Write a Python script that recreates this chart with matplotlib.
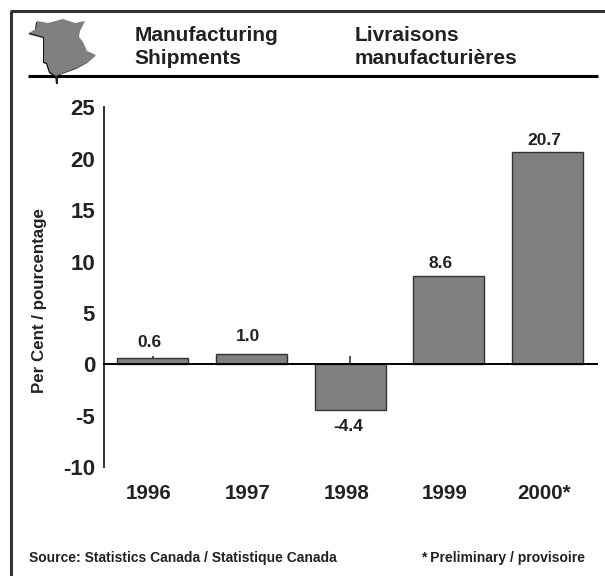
import numpy as np
import matplotlib
matplotlib.use("Agg")
import matplotlib.pyplot as plt
from matplotlib.patches import Polygon

plt.rcParams['font.family'] = ['Liberation Sans', 'DejaVu Sans']
plt.rcParams['font.weight'] = 'bold'

W, H = 605, 576
PX = 72 / 100  # puntos por pixel

# Datos
years = ['1996', '1997', '1998', '1999', '2000*']
values = [0.6, 1.0, -4.4, 8.6, 20.7]
value_labels = ['0.6', '1.0', '-4.4', '8.6', '20.7']
y_ticks = [-10, -5, 0, 5, 10, 15, 20, 25]

# Desplazamiento de cada etiqueta respecto a la barra (px)
label_dx = [-3, -3.5, -2, -8, -3]
label_dy = [15.5, 17.5, -17, 12, 11]

title_en = 'Manufacturing\nShipments'
title_fr = 'Livraisons\nmanufacturières'
y_label = 'Per Cent / pourcentage'
source_text = 'Source: Statistics Canada / Statistique Canada'
note_text = '* Preliminary / provisoire'

# Silueta del mapa (px de la imagen)
map_outline = [(29, 33), (36, 29), (37, 21), (48, 23), (63, 19), (75, 23), (85, 21),
               (80, 31), (79, 37), (83, 42), (87, 51), (96, 55), (88, 62), (77, 68),
               (63, 73), (56, 76), (50, 72), (47, 63), (44, 62), (44, 37)]
map_island = [(55, 76), (58, 76), (58, 84), (56, 84)]

TEXT = '#222222'
DARK = '#333333'
GREY = '#808080'

fig = plt.figure(figsize=(W / 100, H / 100), dpi=100)
fig.patch.set_facecolor('white')

# Capa en pixeles para marco, mapa y textos
bg = fig.add_axes([0, 0, 1, 1])
bg.set_xlim(0, W)
bg.set_ylim(H, 0)
bg.axis('off')

bg.plot([10.5, 10.5], [11, H], color=DARK, lw=2.2, solid_capstyle='butt')
bg.plot([9.5, W], [11, 11], color=DARK, lw=2.2, solid_capstyle='butt')
bg.plot([28, 598], [75.5, 75.5], color='black', lw=2.2, solid_capstyle='butt')

shadow = [(x - 1, y + 1) for x, y in map_outline]
bg.add_patch(Polygon(shadow, closed=True, fc='#111111', ec='none', zorder=3))
bg.add_patch(Polygon(map_outline, closed=True, fc=GREY, ec='none', zorder=4))
bg.add_patch(Polygon(map_island, closed=True, fc='#222222', ec='none', zorder=4))

bg.text(134.5, 47, title_en, fontsize=15, color=TEXT, linespacing=1.3, ha='left', va='center')
bg.text(354.5, 47, title_fr, fontsize=15, color=TEXT, linespacing=1.3, ha='left', va='center')
bg.text(29, 558, source_text, fontsize=10, color=TEXT, ha='left', va='center')
bg.text(585, 558, note_text, fontsize=10, color=TEXT, ha='right', va='center')
bg.text(40, 301, y_label, fontsize=12.2, color=TEXT, rotation=90, ha='center', va='center')

# Grafico
left, right, top, bottom = 103.5, 597.0, 107.3, 467.3
ax = fig.add_axes([left / W, 1 - bottom / H, (right - left) / W, (bottom - top) / H])
ax.patch.set_alpha(0)
x = np.arange(len(years))
ax.bar(x, values, width=0.72, color=GREY, edgecolor=DARK, linewidth=1.0, zorder=3)
ax.set_xlim(-0.5, 4.5)
ax.set_ylim(-10, 25)

ax.spines['top'].set_visible(False)
ax.spines['right'].set_visible(False)
ax.spines['bottom'].set_position(('data', 0))
ax.spines['bottom'].set_linewidth(1.4)
ax.spines['bottom'].set_zorder(4)
ax.spines['left'].set_linewidth(1.4)
ax.spines['left'].set_color(DARK)

ax.set_yticks(y_ticks)
ax.set_yticklabels([str(v) for v in y_ticks], fontsize=16, color=TEXT)
ax.tick_params(axis='y', length=0, pad=6)
ax.set_xticks(x)
ax.set_xticklabels([])
ax.tick_params(axis='x', length=0)

# Marcas pequenas sobre el eje en los anos 1996 y 1998
ax.vlines([x[0], x[2]], 0, 0.8, color='#222222', lw=1.1, zorder=2)

for xi, v, lab, yr, dx, dy in zip(x, values, value_labels, years, label_dx, label_dy):
    ax.annotate(lab, (xi, v), xytext=(dx * PX, dy * PX), textcoords='offset points',
                ha='center', va='center', fontsize=12.5, color=TEXT)
    ax.annotate(yr, (xi, -10), xytext=(-4 * PX, -26 * PX), textcoords='offset points',
                ha='center', va='center', fontsize=14.8, color=TEXT)

fig.savefig('out.png', dpi=100)
